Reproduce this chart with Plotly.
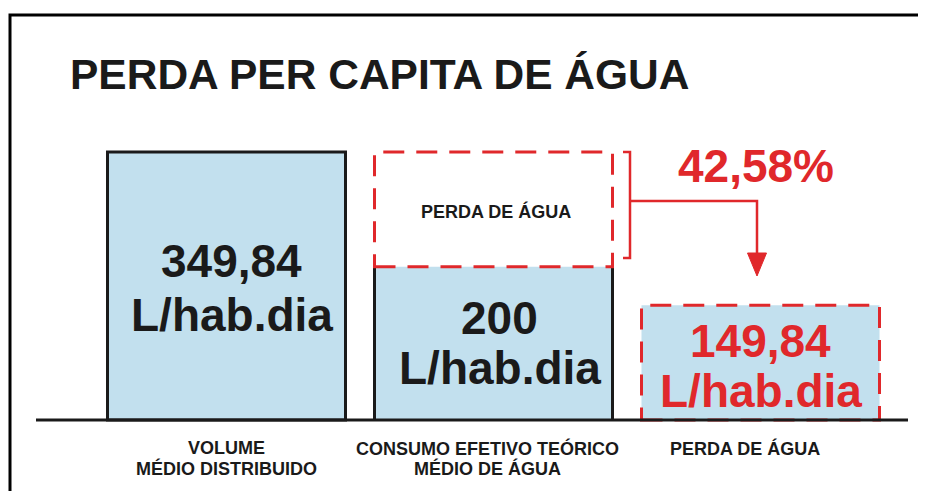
import plotly.graph_objects as go

# data
categories = ["VOLUME<br>MÉDIO DISTRIBUIDO",
              "CONSUMO EFETIVO TEÓRICO<br>MÉDIO DE ÁGUA",
              "PERDA DE ÁGUA"]
values = [349.84, 200, 149.84]
value_text = ["349,84", "200", "149,84"]
unit = "L/hab.dia"
loss_label = "PERDA DE ÁGUA"
loss_pct = "42,58%"
title = "PERDA PER CAPITA DE ÁGUA"

# the page body adds an 8px margin, so the figure is drawn a bit smaller
OFF = 8
W, H = 926 - OFF, 491 - OFF
BLUE = "#c2e0ee"
RED = "#e0282b"
INK = "#1a1a1a"
FONT = "Arial, Liberation Sans, sans-serif"

# pixel layout of the drawing (window pixels)
X0, STEP = 226.5, 267.0        # centre of first bar, distance between bars
BASE, PPU = 420.0, 0.766       # baseline pixel row, pixels per L/hab.dia
BW = 238 / STEP                # bar width in x units


def px2x(px):
    return (px - X0) / STEP


def px2y(py):
    return (BASE - py) / PPU


def paper_x(px):
    return (px - OFF) / W


def paper_y(py):
    return 1 - (py - OFF) / H


xs = list(range(len(values)))

fig = go.Figure()
fig.add_trace(go.Bar(
    x=xs, y=values, width=BW,
    marker=dict(color=BLUE,
                line=dict(color=[INK, "rgba(0,0,0,0)", "rgba(0,0,0,0)"], width=3)),
    hoverinfo="skip",
))

shapes = []
dash = "21px,12px"

# black sides of the second bar
for side in (-1, 1):
    shapes.append(dict(type="line", xref="x", yref="y",
                       x0=xs[1] + side * BW / 2, x1=xs[1] + side * BW / 2,
                       y0=0, y1=values[1], line=dict(color=INK, width=3)))

# dashed box for the loss on top of bar 2
shapes.append(dict(type="rect", xref="x", yref="y",
                   x0=xs[1] - BW / 2, x1=xs[1] + BW / 2,
                   y0=values[1], y1=values[0],
                   line=dict(color=RED, width=3, dash=dash)))

# dashed outline of bar 3
shapes.append(dict(type="rect", xref="x", yref="y",
                   x0=xs[2] - BW / 2, x1=xs[2] + BW / 2,
                   y0=0, y1=values[2],
                   line=dict(color=RED, width=3, dash=dash)))

# baseline
shapes.append(dict(type="line", xref="x", yref="y",
                   x0=px2x(36), x1=px2x(908), y0=0, y1=0,
                   line=dict(color=INK, width=3)))

# bracket + arrow
bx = px2x(630)
shapes.append(dict(type="path", xref="x", yref="y",
                   path=f"M {px2x(623)},{values[0]} L {bx},{values[0]} "
                        f"L {bx},{px2y(258)} L {px2x(623)},{px2y(258)}",
                   line=dict(color=RED, width=2.5)))
ax = px2x(757)
shapes.append(dict(type="path", xref="x", yref="y",
                   path=f"M {bx},{px2y(201)} L {ax},{px2y(201)} L {ax},{px2y(255)}",
                   line=dict(color=RED, width=2.5)))
shapes.append(dict(type="path", xref="x", yref="y",
                   path=f"M {px2x(747.5)},{px2y(253)} L {px2x(766.5)},{px2y(253)} "
                        f"L {ax},{px2y(276)} Z",
                   fillcolor=RED, line=dict(color=RED, width=1)))

# frame (left and top edges)
shapes.append(dict(type="path", xref="paper", yref="paper",
                   path=f"M {paper_x(10)},-0.01 L {paper_x(10)},{paper_y(15)} L 1.01,{paper_y(15)}",
                   line=dict(color="black", width=3)))

annotations = []
annotations.append(dict(xref="paper", yref="paper", x=paper_x(68), y=paper_y(75),
                        xanchor="left", yanchor="middle", showarrow=False,
                        text=f"<b>{title}</b>",
                        font=dict(family=FONT, size=42.5, color=INK)))

value_shift = [(25, -29), (25, -25), (22, -28)]
value_xshift = [5, 6, 0]
for i, v in enumerate(values):
    col = RED if i == 2 else INK
    for txt, ys in zip((value_text[i], unit), value_shift[i]):
        annotations.append(dict(x=xs[i], y=v / 2, xref="x", yref="y",
                                xshift=value_xshift[i], yshift=ys,
                                text=f"<b>{txt}</b>", showarrow=False,
                                yanchor="middle",
                                font=dict(family=FONT, size=46, color=col)))

annotations.append(dict(x=xs[1], y=(values[0] + values[1]) / 2, xref="x", yref="y",
                        xshift=2, yshift=-2, text=f"<b>{loss_label}</b>",
                        showarrow=False, font=dict(family=FONT, size=18, color=INK)))

annotations.append(dict(x=px2x(756), y=px2y(166), xref="x", yref="y",
                        text=f"<b>{loss_pct}</b>", showarrow=False,
                        font=dict(family=FONT, size=46, color=RED)))

cat_xshift = [0, -6, -16]
for i, cat in enumerate(categories):
    for j, line in enumerate(cat.split("<br>")):
        annotations.append(dict(x=xs[i], y=0, xref="x", yref="y",
                                xshift=cat_xshift[i], yshift=-(28 + 20 * j),
                                text=f"<b>{line}</b>", showarrow=False,
                                yanchor="middle",
                                font=dict(family=FONT, size=18, color=INK)))

fig.update_layout(
    width=W, height=H,
    margin=dict(l=0, r=0, t=0, b=0),
    paper_bgcolor="white", plot_bgcolor="white",
    showlegend=False,
    shapes=shapes,
    annotations=annotations,
    xaxis=dict(range=[px2x(OFF), px2x(OFF + W)], visible=False, fixedrange=True),
    yaxis=dict(range=[px2y(OFF + H), px2y(OFF)], visible=False, fixedrange=True),
)

fig.write_html("out.html", config={"displayModeBar": False})
